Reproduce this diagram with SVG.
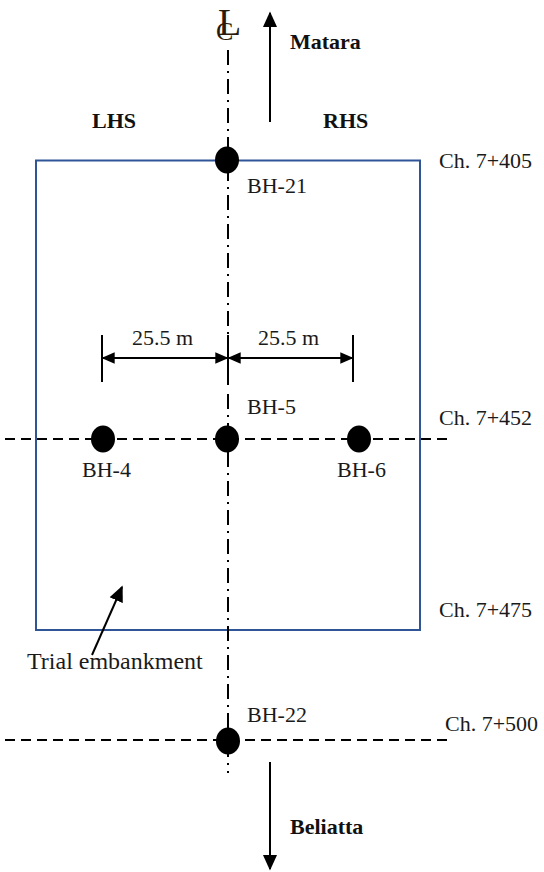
<svg xmlns="http://www.w3.org/2000/svg" width="544" height="872" viewBox="0 0 544 872">
<defs>
<marker id="ahb" viewBox="0 0 10 10" refX="9" refY="5" markerWidth="16" markerHeight="16" markerUnits="userSpaceOnUse" orient="auto"><path d="M0,0.5 L10,5 L0,9.5 z" fill="#000"/></marker>
<marker id="ahd" viewBox="0 0 10 10" refX="9" refY="5" markerWidth="13" markerHeight="13" markerUnits="userSpaceOnUse" orient="auto-start-reverse"><path d="M0,0.5 L10,5 L0,9.5 z" fill="#000"/></marker>
</defs>
<style>
text{font-family:"Liberation Serif","DejaVu Serif",serif;font-size:22px;fill:#1a1a1a}
.b{font-weight:bold;fill:#111}
.cl{stroke:#000;stroke-width:2;fill:none;stroke-dasharray:15,6,2,6}
.dash{stroke:#000;stroke-width:2;fill:none;stroke-dasharray:10,6}
.ln{stroke:#000;stroke-width:2;fill:none}
.bh{fill:#000}
</style>
<rect width="544" height="872" fill="#fff"/>
<g id="embankment"><rect x="36" y="160.5" width="384" height="469.5" fill="none" stroke="#2f5597" stroke-width="2"/></g>
<g id="connectors">
<line class="cl" x1="228" y1="50" x2="228" y2="335"/>
<line class="ln" x1="228" y1="335" x2="228" y2="385"/>
<line class="cl" x1="228" y1="394" x2="228" y2="773"/>
<line class="dash" x1="5" y1="439" x2="452" y2="439"/>
<line class="dash" x1="5" y1="740" x2="452" y2="740"/>
<line class="ln" x1="270" y1="122" x2="270" y2="13" marker-end="url(#ahb)"/>
<line class="ln" x1="270" y1="762" x2="270" y2="869" marker-end="url(#ahb)"/>
<line class="ln" x1="102" y1="335" x2="102" y2="382"/>
<line class="ln" x1="353" y1="335" x2="353" y2="382"/>
<line class="ln" x1="103" y1="358" x2="227" y2="358" marker-start="url(#ahd)" marker-end="url(#ahd)"/>
<line class="ln" x1="229" y1="358" x2="352" y2="358" marker-start="url(#ahd)" marker-end="url(#ahd)"/>
<line class="ln" x1="92" y1="655" x2="122" y2="587" marker-end="url(#ahb)"/>
</g>
<g id="centerline-symbol"><text x="218" y="35" style="font-size:38px;fill:#2a1a0a">L<tspan x="216" y="40" style="font-size:26px">C</tspan></text></g>
<g id="BH-21"><ellipse class="bh" cx="227" cy="160" rx="12" ry="13.5"/><text x="247" y="193">BH-21</text></g>
<g id="BH-4"><ellipse class="bh" cx="103" cy="439" rx="12" ry="13.5"/><text x="82" y="477">BH-4</text></g>
<g id="BH-5"><ellipse class="bh" cx="227" cy="439" rx="12" ry="13.5"/><text x="247" y="414">BH-5</text></g>
<g id="BH-6"><ellipse class="bh" cx="359" cy="439" rx="12" ry="13.5"/><text x="337" y="477">BH-6</text></g>
<g id="BH-22"><ellipse class="bh" cx="228" cy="741" rx="12" ry="13.5"/><text x="247" y="722">BH-22</text></g>
<g id="labels">
<text class="b" x="290" y="49">Matara</text>
<text class="b" x="92" y="128">LHS</text>
<text class="b" x="323" y="128">RHS</text>
<text class="b" x="290" y="834">Beliatta</text>
<text x="132" y="345">25.5 m</text>
<text x="258" y="345">25.5 m</text>
<text x="439" y="168">Ch. 7+405</text>
<text x="439" y="425">Ch. 7+452</text>
<text x="439" y="617">Ch. 7+475</text>
<text x="445" y="731">Ch. 7+500</text>
<text x="27" y="669" style="font-size:24px">Trial embankment</text>
</g>
</svg>
